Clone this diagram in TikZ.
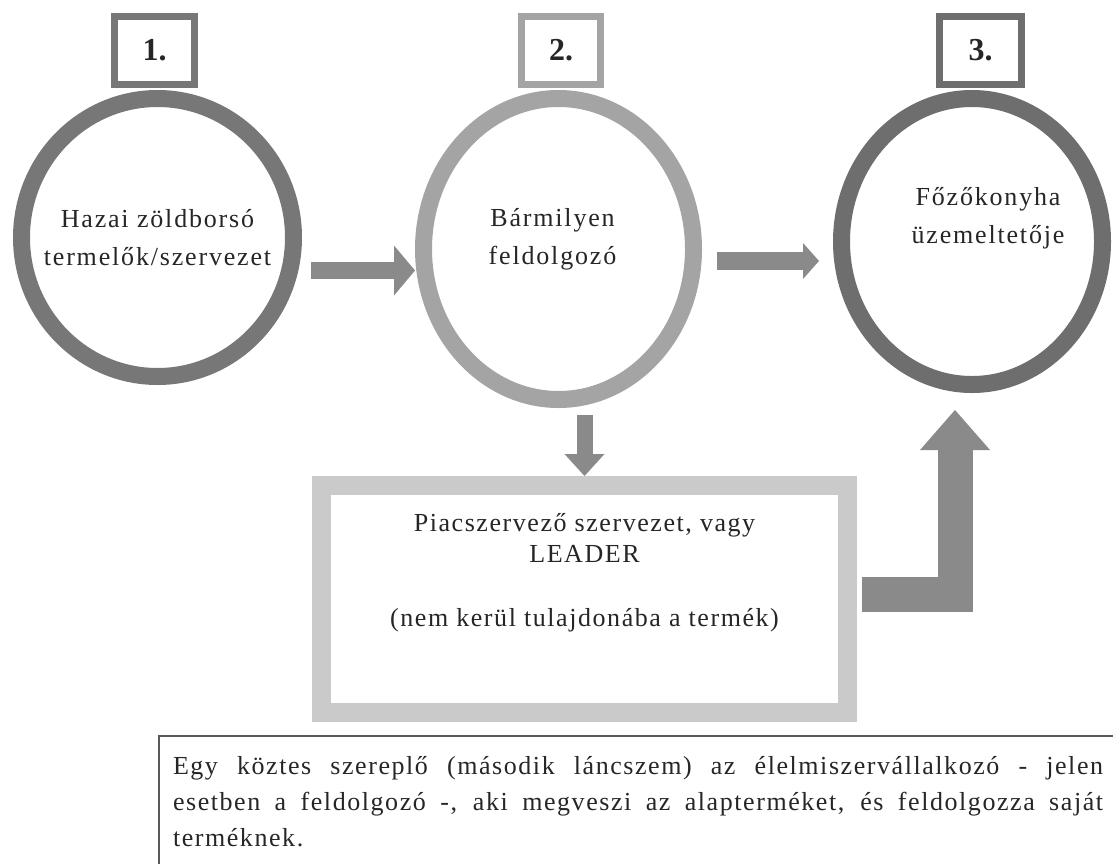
\documentclass[tikz,border=0pt]{standalone}
\usepackage{fontspec}
\setmainfont{Liberation Serif}
\newfontfamily\spaced{Liberation Serif}[LetterSpace=7]
\newfontfamily\halfspaced{Liberation Serif}[LetterSpace=6]
\usepackage{xcolor}
\usepackage{tikz}
\usetikzlibrary{shapes.geometric}
\usetikzlibrary{arrows.meta}
\hyphenpenalty=10000
\tolerance=10000
\definecolor{ringA}{HTML}{777777}
\definecolor{ringB}{HTML}{A4A4A4}
\definecolor{ringC}{HTML}{6E6E6E}
\definecolor{bigbox}{HTML}{CACACA}
\definecolor{flowgray}{HTML}{8A8A8A}
\definecolor{framegray}{HTML}{5A5A5A}
\tikzset{ring/.style={draw=#1, ellipse, line width=17pt, inner sep=0pt, fill=white},
         numbox/.style={draw=#1, line width=7pt, minimum height=68pt, inner sep=0pt, fill=white,
                        font=\fontsize{32}{36}\selectfont\bfseries, text=black!85},
         ringtext/.style={align=center, text=black!85, font=\fontsize{26}{38}\selectfont\spaced},
         flow/.style={draw=flowgray, line width=#1},
         tip/.style n args={2}{-{Triangle[width=#1,length=#2,line width=0pt]}}}
\begin{document}
\begin{tikzpicture}[x=1pt,y=-1pt]
\useasboundingbox (0,0) rectangle (1113,863);
\clip (0,0) rectangle (1113,863);
\draw (157.5,237.5) node[ring=ringA, minimum width=272pt, minimum height=278pt,
  label={[ringtext]center:Hazai zöldborsó\\termelők/szervezet}] (c1) {};
\draw (558.5,249) node[ring=ringB, minimum width=270pt, minimum height=301pt,
  label={[ringtext, xshift=-6pt, yshift=10pt]center:Bármilyen\\feldolgozó}] (c2) {};
\draw (972,241.5) node[ring=ringC, minimum width=261pt, minimum height=286pt,
  label={[ringtext, xshift=16pt, yshift=23pt]center:Főzőkonyha\\üzemeltetője}] (c3) {};
\draw (154.5,50.5) node[numbox=ringA, minimum width=80pt] (n1) {1.};
\draw (561,50.5) node[numbox=ringB, minimum width=79pt] (n2) {2.};
\draw (980.5,50.5) node[numbox=ringC, minimum width=82pt] (n3) {3.};
\draw (584.5,599) node[draw=bigbox, line width=19pt, minimum width=526pt, minimum height=227pt, fill=white,
  label={[align=center, yshift=26pt, text=black!85, font=\fontsize{26}{31}\selectfont\halfspaced]center:Piacszervező szervezet, vagy\\LEADER\\[33pt](nem kerül tulajdonába a termék)}] (big) {};
\draw[flow=17pt, tip={50pt}{21pt}, shorten <=9pt] ([yshift=-33pt]c1.east) -- ([yshift=-33pt]c1.east -| c2.west);
\draw[flow=18pt, tip={36pt}{16pt}, shorten <=15pt, shorten >=14pt] ([yshift=-12pt]c2.east) -- ([yshift=-12pt]c2.east -| c3.west);
\draw[flow=16pt, tip={40pt}{22pt}, shorten <=7pt] (c2.south -| big.north) -- (big.north);
\draw[flow=35pt, tip={70pt}{40pt}, line join=miter, shorten <=5pt, shorten >=17pt] ([yshift=4.5pt]big.east) -| ([xshift=-17pt]c3.south);
\draw (158,735) node[anchor=north west, draw=framegray, line width=2pt, text width=930pt, inner xsep=14pt, inner ysep=20pt,
  align=justify, text=black!85, font=\fontsize{26}{36}\selectfont\halfspaced] (note)
  {Egy köztes szereplő (második láncszem) az élelmiszervállalkozó - jelen\linebreak esetben a feldolgozó -, aki megveszi az alapterméket, és feldolgozza saját\linebreak terméknek.};
\end{tikzpicture}
\end{document}
